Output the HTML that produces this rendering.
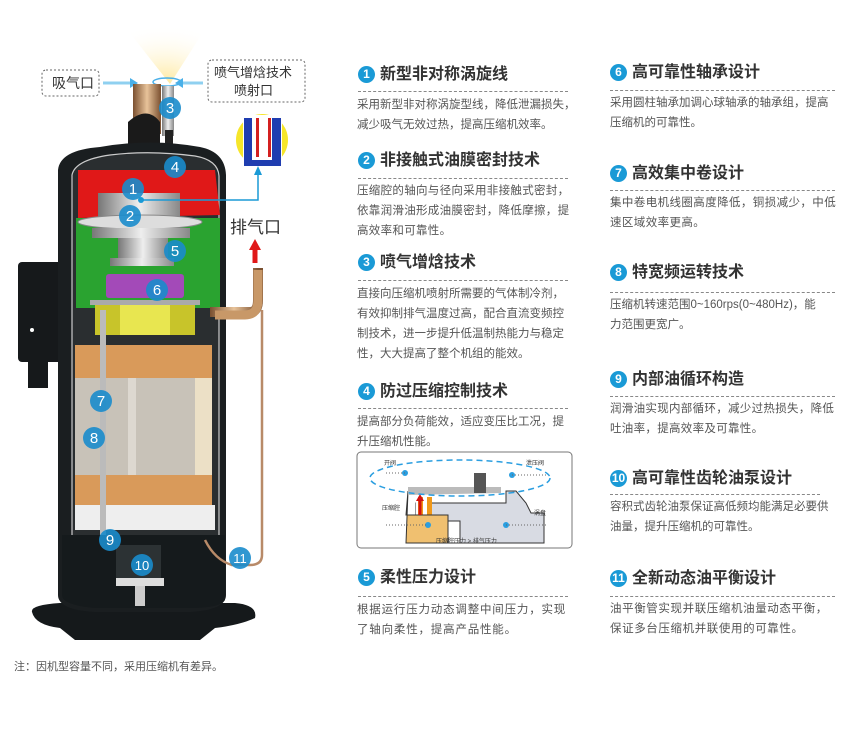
<!DOCTYPE html>
<html><head><meta charset="utf-8">
<style>
*{margin:0;padding:0;box-sizing:border-box}
body{width:860px;height:754px;background:#fff;position:relative;overflow:hidden;font-family:"Liberation Sans","Noto Sans CJK SC",sans-serif;color:#333}
.h{position:absolute;font-size:16px;font-weight:bold;color:#333;white-space:nowrap;line-height:20px}
.h i{display:inline-block;width:17px;height:17px;border-radius:50%;background:#1a9ad6;color:#fff;font-style:normal;font-size:12px;text-align:center;line-height:17px;margin-right:5px;vertical-align:1px}
.d{position:absolute;border-top:1px dashed #888;width:210px}
.b{position:absolute;font-size:11.5px;color:#555;line-height:20px;white-space:nowrap}
.n{position:absolute;font-size:11px;color:#555}
</style></head><body>

<svg width="330" height="660" style="position:absolute;left:0;top:0" xmlns="http://www.w3.org/2000/svg">
<defs>
<radialGradient id="glow" cx="50%" cy="100%" r="90%"><stop offset="0" stop-color="#ffe89a"/><stop offset="1" stop-color="#fff" stop-opacity="0"/></radialGradient>
<linearGradient id="cop" x1="0" x2="1"><stop offset="0" stop-color="#7a5030"/><stop offset=".5" stop-color="#e8c39a"/><stop offset="1" stop-color="#7a5030"/></linearGradient>
<linearGradient id="met" x1="0" x2="1"><stop offset="0" stop-color="#777"/><stop offset=".5" stop-color="#eee"/><stop offset="1" stop-color="#888"/></linearGradient>
</defs>
<path d="M118 18 L212 18 L170 84 Z" fill="url(#glow)"/>
<ellipse cx="167" cy="82" rx="14" ry="4" fill="none" stroke="#4ab0e8" stroke-width="1.5"/>
<rect x="42" y="70" width="57" height="26" rx="4" fill="none" stroke="#666" stroke-dasharray="2,2"/>
<text x="52" y="88" font-size="14" fill="#333">吸气口</text>
<path d="M103 83 L132 83" stroke="#8fd0f0" stroke-width="3"/><path d="M130 78 L138 83 L130 88Z" fill="#4ab0e8"/>
<rect x="208" y="60" width="97" height="42" rx="4" fill="none" stroke="#666" stroke-dasharray="2,2"/>
<text x="214" y="77" font-size="13" fill="#333">喷气增焓技术</text>
<text x="234" y="95" font-size="13" fill="#333">喷射口</text>
<path d="M203 83 L180 83" stroke="#8fd0f0" stroke-width="3"/><path d="M183 78 L175 83 L183 88Z" fill="#4ab0e8"/>
<rect x="133" y="84" width="28" height="50" fill="url(#cop)"/>
<rect x="162" y="86" width="12" height="50" fill="url(#met)"/>
<rect x="165" y="130" width="8" height="20" fill="#222"/>
<path d="M128 150 L128 122 Q147 105 160 122 L160 150Z" fill="#1a1a1a"/>
<path d="M32 612 Q30 605 60 603 L235 603 Q258 605 255 618 Q240 625 215 628 L200 640 L75 640 L60 628 Q35 625 32 612Z" fill="#15191b"/>
<rect x="18" y="262" width="45" height="100" rx="4" fill="#16191b"/>
<rect x="28" y="358" width="20" height="30" fill="#16191b"/>
<circle cx="32" cy="330" r="2" fill="#fff"/>
<path d="M58 170 Q60 150 100 147 Q150 138 200 147 Q225 152 226 175 L226 595 Q226 610 190 612 L95 612 Q58 610 58 595Z" fill="#1a1e20"/>
<path d="M72 175 Q75 160 110 155 Q150 150 195 156 Q218 160 219 176 L219 545 L72 545Z" fill="#2a2e30" stroke="#ccc" stroke-width="1.2"/>
<path d="M78 170 L215 170 L220 215 L78 218Z" fill="#e01818"/>
<rect x="76" y="218" width="144" height="90" fill="#2aa330"/>
<rect x="98" y="193" width="82" height="28" fill="url(#met)"/>
<ellipse cx="140" cy="222" rx="62" ry="7" fill="#ddd" stroke="#888"/>
<rect x="92" y="228" width="98" height="10" fill="url(#met)"/>
<rect x="118" y="238" width="50" height="22" fill="url(#met)"/>
<rect x="110" y="258" width="64" height="8" fill="url(#met)"/>
<rect x="106" y="274" width="78" height="24" rx="3" fill="#a34ab8"/>
<rect x="90" y="300" width="110" height="5" fill="#aaa"/>
<rect x="95" y="305" width="100" height="30" fill="#c8c42a"/>
<rect x="120" y="305" width="50" height="30" fill="#e8e650"/>
<rect x="75" y="345" width="137" height="33" fill="#d99a5a"/>
<rect x="75" y="378" width="137" height="97" fill="#c8c2b8"/>
<rect x="195" y="378" width="17" height="97" fill="#ece0c6"/>
<rect x="128" y="378" width="8" height="97" fill="#ddd8d0"/>
<rect x="75" y="475" width="137" height="30" fill="#d99a5a"/>
<rect x="75" y="505" width="140" height="25" fill="#eee"/>
<rect x="100" y="310" width="6" height="230" fill="#bbb"/>
<path d="M62 535 L225 535 L225 600 Q220 608 190 608 L95 608 Q62 605 62 595Z" fill="#151a1c"/>
<rect x="116" y="545" width="45" height="40" fill="#2c3234"/>
<rect x="116" y="578" width="48" height="8" fill="#ddd"/>
<rect x="135" y="586" width="10" height="20" fill="#ccc"/>
<path d="M210 312 L250 312 Q258 312 258 300 L258 268" stroke="url(#cop)" stroke-width="10" fill="none"/>
<path d="M258 270 L258 300 Q258 315 245 315 L215 315" stroke="#c89868" stroke-width="9" fill="none"/>
<path d="M255 263 L255 248" stroke="#e01818" stroke-width="5"/><path d="M249 250 L255 239 L261 250Z" fill="#e01818"/>
<text x="230" y="233" font-size="17" fill="#333">排气口</text>
<path d="M262 310 L262 555 Q262 565 250 565 L232 565 Q215 560 205 540" stroke="#b88a68" stroke-width="2.5" fill="none"/>
<circle cx="262" cy="140" r="26" fill="#f6e62a"/>
<path d="M243 115 L243 166 L282 166 L282 115" fill="#fff"/>
<path d="M244 118 L244 166 L281 166 L281 118 L272 118 L272 160 L252 160 L252 118Z" fill="#1f3db0"/>
<path d="M256 118 L256 157 L259 157 L259 118 M268 118 L268 157 L271 157 L271 118" fill="#d42020"/>
<rect x="259" y="118" width="9" height="40" fill="#fff"/>
<path d="M141 200 L258 200 L258 172" stroke="#1a9ad6" stroke-width="1.5" fill="none"/>
<path d="M254 175 L258 166 L262 175Z" fill="#1a9ad6"/>
<circle cx="141" cy="200" r="3" fill="#1a9ad6"/>
<g fill="#1a8ccc" fill-opacity=".9">
<circle cx="133" cy="189" r="11"/><circle cx="130" cy="216" r="11"/><circle cx="170" cy="108" r="11"/>
<circle cx="175" cy="167" r="11"/><circle cx="175" cy="251" r="11"/><circle cx="157" cy="290" r="11"/>
<circle cx="101" cy="401" r="11"/><circle cx="94" cy="438" r="11"/><circle cx="110" cy="540" r="11"/>
<circle cx="142" cy="565" r="11"/><circle cx="240" cy="558" r="11"/>
</g>
<g fill="#fff" font-size="15" text-anchor="middle">
<text x="133" y="194">1</text><text x="130" y="221">2</text><text x="170" y="113">3</text>
<text x="175" y="172">4</text><text x="175" y="256">5</text><text x="157" y="295">6</text>
<text x="101" y="406">7</text><text x="94" y="443">8</text><text x="110" y="545">9</text>
<text x="142" y="570" font-size="13">10</text><text x="240" y="563" font-size="13">11</text>
</g>
</svg>

<div class="n" style="left:14px;top:658px">注：因机型容量不同，采用压缩机有差异。</div>

<div class="h" style="left:358px;top:65px"><i>1</i>新型非对称涡旋线</div>
<div class="d" style="left:358px;top:91px"></div>
<div class="b" style="left:357px;top:95px">采用新型非对称涡旋型线，降低泄漏损失，<br>减少吸气无效过热，提高压缩机效率。</div>

<div class="h" style="left:358px;top:151px"><i>2</i>非接触式油膜密封技术</div>
<div class="d" style="left:358px;top:178px"></div>
<div class="b" style="left:357px;top:181px;letter-spacing:0.3px">压缩腔的轴向与径向采用非接触式密封，<br>依靠润滑油形成油膜密封，降低摩擦，提<br>高效率和可靠性。</div>

<div class="h" style="left:358px;top:253px"><i>3</i>喷气增焓技术</div>
<div class="d" style="left:358px;top:280px"></div>
<div class="b" style="left:357px;top:284px">直接向压缩机喷射所需要的气体制冷剂，<br>有效抑制排气温度过高，配合直流变频控<br>制技术，进一步提升低温制热能力与稳定<br>性，大大提高了整个机组的能效。</div>

<div class="h" style="left:358px;top:382px"><i>4</i>防过压缩控制技术</div>
<div class="d" style="left:358px;top:408px"></div>
<div class="b" style="left:357px;top:412px">提高部分负荷能效，适应变压比工况，提<br>升压缩机性能。</div>

<svg width="218" height="100" style="position:absolute;left:356px;top:451px" xmlns="http://www.w3.org/2000/svg">
<rect x="1" y="1" width="215" height="96" rx="4" fill="#fff" stroke="#777"/>
<path d="M60 52 L150 52 L150 40 L160 40 L170 52 L175 62 L188 62 L188 92 L60 92Z" fill="#d8dbe3" stroke="#333"/>
<rect x="80" y="70" width="24" height="22" fill="#fff" stroke="#333"/>
<rect x="60" y="46" width="14" height="46" fill="#fff"/>
<rect x="62" y="46" width="5" height="18" fill="#f09818"/>
<rect x="71" y="46" width="5" height="18" fill="#f09818"/>
<path d="M50 64 L52 40 L50 92 L92 92 L92 64Z" fill="#f0c070" stroke="#333"/>
<path d="M52 36 L145 36 L145 42 L52 44Z" fill="#bbb"/>
<rect x="118" y="22" width="12" height="20" fill="#555"/>
<path d="M64 64 L64 48" stroke="#d41010" stroke-width="3"/><path d="M60 50 L64 43 L68 50Z" fill="#d41010"/>
<ellipse cx="104" cy="27" rx="90" ry="18" fill="none" stroke="#2a9ee0" stroke-width="1.5" stroke-dasharray="6,4"/>
<g fill="#2a9ee0"><circle cx="49" cy="22" r="3"/><circle cx="156" cy="24" r="3"/><circle cx="72" cy="74" r="3"/><circle cx="150" cy="74" r="3"/></g>
<g stroke="#666" stroke-dasharray="1,2"><path d="M30 22 L49 22 M156 24 L190 24 M30 74 L72 74 M150 74 L190 74"/></g>
<g font-size="6" fill="#333"><text x="28" y="14">开阀</text><text x="170" y="14">泄压阀</text><text x="26" y="59">压缩腔</text><text x="178" y="64">涡盘</text><text x="80" y="92">压缩腔压力 &gt; 排气压力</text></g>
</svg>

<div class="h" style="left:358px;top:568px"><i>5</i>柔性压力设计</div>
<div class="d" style="left:358px;top:596px"></div>
<div class="b" style="left:357px;top:600px;letter-spacing:0.8px">根据运行压力动态调整中间压力，实现<br>了轴向柔性，提高产品性能。</div>

<div class="h" style="left:610px;top:63px"><i>6</i>高可靠性轴承设计</div>
<div class="d" style="left:610px;top:90px;width:225px"></div>
<div class="b" style="left:610px;top:93px">采用圆柱轴承加调心球轴承的轴承组，提高<br>压缩机的可靠性。</div>

<div class="h" style="left:610px;top:164px"><i>7</i>高效集中卷设计</div>
<div class="d" style="left:610px;top:190px;width:225px"></div>
<div class="b" style="left:610px;top:193px;letter-spacing:0.4px">集中卷电机线圈高度降低，铜损减少，中低<br>速区域效率更高。</div>

<div class="h" style="left:610px;top:263px"><i>8</i>特宽频运转技术</div>
<div class="d" style="left:610px;top:292px;width:225px"></div>
<div class="b" style="left:610px;top:295px">压缩机转速范围0~160rps(0~480Hz)，能<br>力范围更宽广。</div>

<div class="h" style="left:610px;top:370px"><i>9</i>内部油循环构造</div>
<div class="d" style="left:610px;top:396px;width:225px"></div>
<div class="b" style="left:610px;top:399px;letter-spacing:0.3px">润滑油实现内部循环，减少过热损失，降低<br>吐油率，提高效率及可靠性。</div>

<div class="h" style="left:610px;top:469px"><i>10</i>高可靠性齿轮油泵设计</div>
<div class="d" style="left:610px;top:494px;width:210px"></div>
<div class="b" style="left:610px;top:497px">容积式齿轮油泵保证高低频均能满足必要供<br>油量，提升压缩机的可靠性。</div>

<div class="h" style="left:610px;top:569px"><i>11</i>全新动态油平衡设计</div>
<div class="d" style="left:610px;top:596px;width:225px"></div>
<div class="b" style="left:610px;top:599px;letter-spacing:0.6px">油平衡管实现并联压缩机油量动态平衡，<br>保证多台压缩机并联使用的可靠性。</div>

</body></html>
